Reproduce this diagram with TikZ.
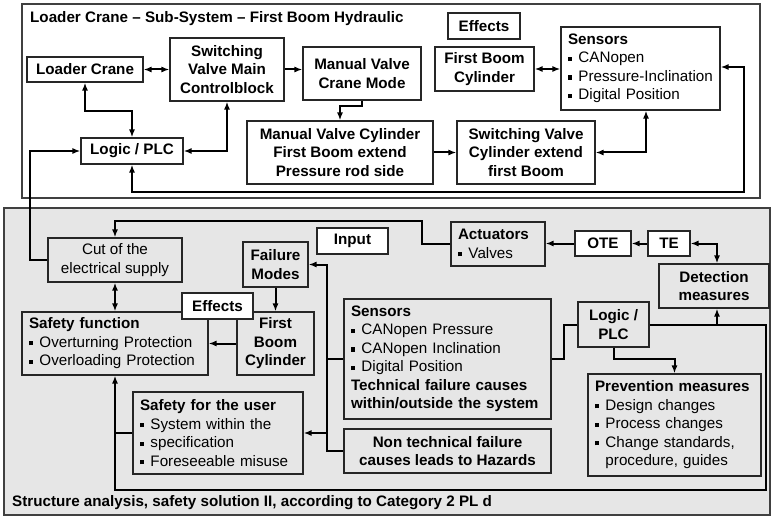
\documentclass[tikz,border=0pt]{standalone}
\usepackage{fontspec}
\setmainfont{Liberation Sans}
\usetikzlibrary{arrows.meta,calc}
\definecolor{pgray}{RGB}{230,230,230}
\newcommand\fs{\fontsize{15.2}{18.5}\selectfont}
\newcommand\bsq{\raisebox{0.13em}{\rule{0.27em}{0.27em}}\hspace{0.42em}}
\newcommand\bitem[1]{{\mdseries\bsq\mbox{#1}}}
\tikzset{
  bx/.style={draw=black!85,line width=1.1pt,inner sep=0pt,align=center,font=\fs\bfseries,fill=white},
  gb/.style={fill=pgray},
  sz/.style 2 args={minimum width=#1pt,minimum height=#2pt},
  lbx/.style 2 args={align=left,text width=#1pt,minimum height=#2pt,inner xsep=7pt},
  ln/.style={line width=2pt,black},
  ar/.style={ln,-{Latex[length=8pt,width=6pt]}},
  da/.style={ln,{Latex[length=8pt,width=6pt]}-{Latex[length=8pt,width=6pt]}}
}
\begin{document}
\begin{tikzpicture}[x=1pt,y=-1pt]
\fill[white] (0,0) rectangle (771,516);
\useasboundingbox (0,0) rectangle (771,516);
% panels
\draw[draw=black!75,line width=1.3pt] (22,4) rectangle (760,198);
\draw[draw=black!75,line width=1.3pt,fill=pgray] (4,208) rectangle (770,515);
\node[anchor=west,font=\fs\bfseries,inner sep=0pt] (t1) at (30,19) {Loader Crane – Sub-System – First Boom Hydraulic};
\node[anchor=west,font=\fs\bfseries,inner sep=0pt] (t2) at (12,503) {Structure analysis, safety solution II, according to Category 2 PL d};
% top nodes
\node[bx,sz={116}{25}] (lc) at (85,69.5) {Loader Crane};
\node[bx,sz={114}{63}] (sv) at (227,69.5) {Switching\\Valve Main\\Controlblock};
\node[bx,sz={118}{53}] (mv) at (362,73.5) {Manual Valve\\Crane Mode};
\node[bx,sz={72}{26}] (ef1) at (484,26) {Effects};
\node[bx,sz={99}{44}] (fb1) at (484.5,69) {First Boom\\Cylinder};
\node[bx,lbx={145}{83}] (sn1) at (640.5,68.5) {Sensors\\\bitem{CANopen}\\\bitem{Pressure-Inclination}\\\bitem{Digital Position}};
\node[bx,sz={186}{63}] (mvc) at (340,152.5) {Manual Valve Cylinder\\First Boom extend\\Pressure rod side};
\node[bx,sz={138}{63}] (svc) at (526,152.5) {Switching Valve\\Cylinder extend\\first Boom};
\node[bx,sz={102}{26}] (pl1) at (132,151) {Logic / PLC};
% bottom nodes
\node[bx,gb,sz={134}{44},font=\fs\mdseries] (cut) at (115,260) {Cut of the\\electrical supply};
\node[bx,sz={71}{26}] (inp) at (352.5,241) {Input};
\node[bx,gb,sz={65}{45}] (fm) at (275.5,264.5) {Failure\\Modes};
\node[bx,gb,lbx={172}{63}] (sf) at (115,343.5) {Safety function\\\bitem{Overturning Protection}\\\bitem{Overloading Protection}};
\node[bx,gb,sz={77}{63}] (fb2) at (275.5,343.5) {First\\Boom\\Cylinder};
\node[bx,sz={71}{26}] (ef2) at (217.5,306) {Effects};
\node[bx,gb,lbx={193}{120}] (sn2) at (447.5,359) {Sensors\\\bitem{CANopen Pressure}\\\bitem{CANopen Inclination}\\\bitem{Digital Position}\\Technical failure causes\\within/outside the system};
\node[bx,gb,sz={207}{44}] (ntf) at (447.5,451) {Non technical failure\\causes leads to Hazards};
\node[bx,gb,lbx={156}{82}] (sfu) at (218,433) {Safety for the user\\\bitem{System within the}\\\bitem{specification}\\\bitem{Foreseeable misuse}};
\node[bx,gb,lbx={80}{44}] (act) at (498,244) {Actuators\\\bitem{Valves}};
\node[bx,sz={56}{25}] (ote) at (603,243.5) {OTE};
\node[bx,sz={42}{25}] (te) at (669,243.5) {TE};
\node[bx,gb,sz={110}{44}] (det) at (714,286) {Detection\\measures};
\node[bx,gb,sz={71}{45}] (pl2) at (613.5,324.5) {Logic /\\PLC};
\node[bx,gb,lbx={159}{102}] (pm) at (674.5,425) {Prevention measures\\\bitem{Design changes}\\\bitem{Process changes}\\\bitem{Change standards,}\\{\mdseries\phantom{\bsq}procedure, guides}};
% helper coordinates
\coordinate (k1) at (744,67);
\coordinate (k2) at (744,192);
\coordinate (k3) at (30,260);
\coordinate (bx1) at (327,0);
\coordinate (dn) at ($(det.north)+(3,0)$);
\coordinate (r1) at (766,490);
\coordinate (a1) at (422,244);
\coordinate (a2) at (115,221);
% top connectors
\draw[da] (lc.east) -- (sv.west);
\draw[ar] (sv.east) -- (sv.east -| mv.west);
\draw[ar] (mv.south) -- ++(0,5) -| (mvc.north);
\draw[da] (lc.south) -- ++(0,28) -| (pl1.north);
\draw[da] (sv.south) |- (pl1.east);
\draw[ar] (mvc.east) -- (svc.west);
\draw[da] (svc.east) -| ($(sn1.south)+(5.5,0)$);
\draw[da] (fb1.east) -- (fb1.east -| sn1.west);
\draw[da] (pl1.south) |- (k2) -- (k1) -- (k1 -| sn1.east);
\draw[ar] (cut.west) -- (k3) |- (pl1.west);
% bottom connectors
\draw[ar] (act.west) -- (a1) |- (a2) -- (cut.north);
\draw[ar] (ote.west) -- (ote.west -| act.east);
\draw[ar] (te.west) -- (ote.east);
\draw[da] (te.east) -| (dn);
\draw[da] (cut.south) -- (sf.north);
\draw[ar] (fm.south) -- (fb2.north);
\draw[ar] (fb2.west) -- (sf.east);
\draw[ar] (ntf.west) -- (ntf.west -| bx1) |- (fm.east);
\draw[ln] (sn2.west) -- (sn2.west -| bx1);
\draw[ar] (sfu.east -| bx1) -- (sfu.east);
\draw[ar] (pl2.east) -| (r1) -| (sf.south);
\draw[ln] (sfu.west) -- (sfu.west -| sf.south);
\draw[ar] (pl2.east -| dn) -- (det.south -| dn);
\draw[ln] (pl2.west) -- ++(-13,0) |- (sn2.east);
\draw[ar] (pl2.south) -- ++(0,11) -| (pm.north);
\end{tikzpicture}
\end{document}
